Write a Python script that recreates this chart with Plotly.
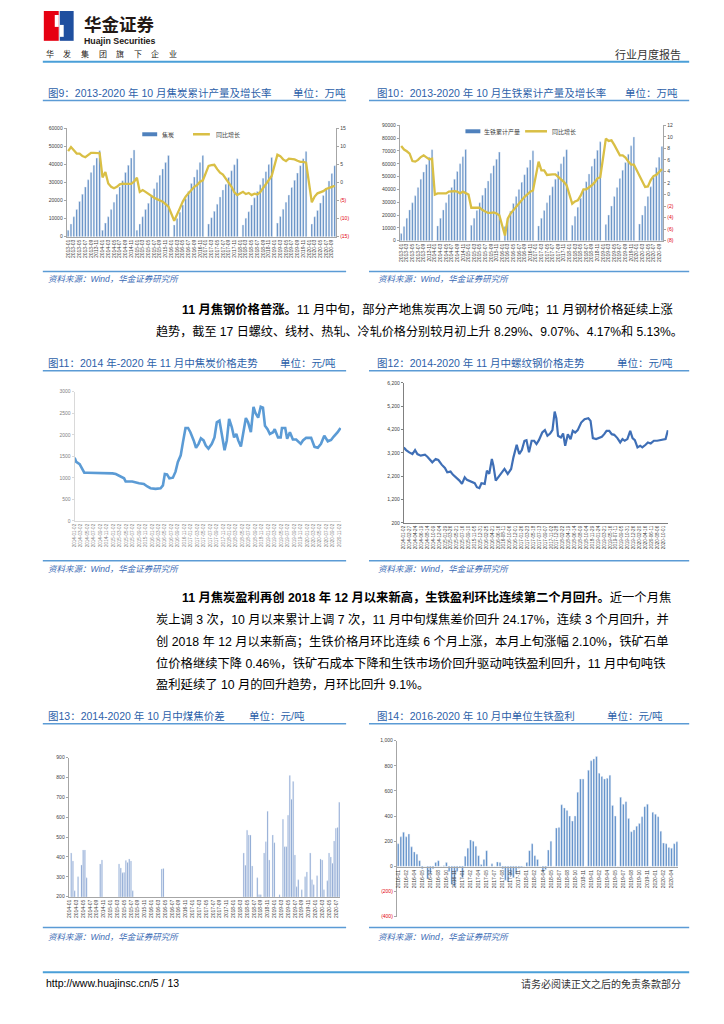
import plotly.graph_objects as go
import pandas as pd

# The page body has an 8px default margin; the figure is sized to fit inside it.
OFF = 8
W, H = 724 - OFF, 1024 - OFF
def px(x): return (x - OFF) / W
def py(y): return 1 - (y - OFF) / H

FONT = "Liberation Sans, Noto Sans CJK SC, sans-serif"
CJK = "Noto Sans CJK SC, Liberation Sans, sans-serif"
TITLE_BLUE = "#2d5fa9"
RULE_BLUE = "#5b9bd5"
RED = "#e3000f"
BAR_BLUE = "#4f81bd"
GOLD = "#d9bf45"
TICK = "#404040"

# ---------------- Data ----------------
# Fig 9: coke cumulative output (10k t) and YoY growth (%), monthly slots 2013-01 .. 2020-10
months_9 = [f"{y}-{m:02d}" for y in range(2013, 2021) for m in range(1, 13)][:94]
coke_output = [
    3500, 7000, 11000, 15000, 19500, 23500, 27500, 31500, 35500, 39500, 43500, 47500,
    3500, 7500, 11000, 15000, 19000, 23500, 27500, 31000, 35500, 39500, 43500, 48000,
    3500, 7000, 11000, 15000, 18500, 22500, 26500, 30000, 34000, 37500, 41000, 45000,
    None, 6500, 10000, 13500, 17500, 21000, 25000, 29500, 33000, 37000, 41000, 44900,
    None, 7000, 10500, 14000, 18000, 22000, 25800, 29000, 32800, 36500, 39800, 43100,
    None, 6500, 10200, 13800, 17500, 21500, 25000, 28700, 32300, 36000, 39900, 43800,
    None, 7500, 11200, 15200, 19000, 23000, 27200, 31200, 35200, 39300, 43200, 47100,
    None, 7000, 11000, 14500, 18600, 22800, 26800, 30800, 35000, 39300,
]
coke_yoy = [
    8.7, 9.8, 8.9, 8.0, 8.0, 7.3, 7.0, 7.7, 8.2, 8.2, 8.1, 8.1,
    1.4, 2.9, -0.3, -1.2, -1.6, -1.2, -0.5, -0.3, -0.4, -0.4, -0.4, 0.2,
    1.3, -2.6, -2.1, -2.6, -3.2, -3.8, -4.2, -4.6, -5.0, -5.3, -6.0, -6.7,
    None, -10.6, -9.0, -7.1, -5.3, -3.9, -3.0, -2.1, -1.2, -0.7, 0.2, 0.6,
    None, 4.6, 4.8, 4.9, 3.7, 2.7, 2.2, 1.1, -0.3, -1.2, -2.7, -3.5,
    None, -2.6, -3.2, -2.9, -3.5, -3.1, -3.3, -2.7, -1.6, -0.7, 0.5, 1.8,
    None, 7.7, 7.3, 6.4, 5.9, 6.6, 6.6, 6.4, 6.0, 5.7, 5.7, 5.5,
    None, -5.5, -3.9, -3.0, -2.8, -2.4, -1.8, -1.4, -1.2, -0.9,
]

# Fig 10: pig iron cumulative output (10k t) and YoY growth (%)
months_10 = months_9
pig_output = [
    5500, 11000, 17500, 24000, 29500, 35000, 41500, 48000, 53500, 59500, 65000, 71000,
    None, 11500, 17500, 24000, 29500, 36000, 41500, 48000, 54000, 60000, 65500, 71200,
    None, 12000, 17500, 23500, 29500, 35500, 41000, 46500, 52500, 58500, 63500, 69100,
    None, 11000, 17000, 23000, 29000, 34500, 40000, 45500, 51500, 57000, 63000, 70100,
    None, 11500, 17500, 23500, 29500, 35500, 42000, 48000, 54000, 60000, 65500, 71000,
    None, 12000, 19000, 26000, 33000, 39500, 46000, 52000, 58000, 64000, 70500, 77100,
    None, 12500, 20000, 27000, 34500, 41500, 48500, 55000, 61000, 67500, 74000, 80900,
    None, 13000, 20000, 27000, 34500, 42000, 49500, 57000, 65000, 73500,
]
pig_yoy = [
    8.4, 7.8, 7.5, 7.1, 5.8, 5.7, 6.0, 6.5, 6.8, 6.5, 6.1, 6.2,
    0.0, 0.2, 0.2, 0.1, 0.2, 0.5, 0.6, 0.6, 0.5, 0.2, 0.5, 0.3,
    0.0, -2.3, -2.3, -2.4, -2.3, -2.7, -3.0, -3.2, -3.2, -3.1, -3.3, -3.6,
    None, -7.1, -4.2, -3.3, -2.7, -2.1, -1.6, -1.0, -0.4, 0.0, 0.5, 0.7,
    None, 5.7, 4.2, 4.2, 3.4, 3.5, 3.5, 3.5, 3.1, 2.7, 2.2, 1.6,
    None, -1.6, -1.2, -1.0, -0.2, 0.9, 0.9, 1.2, 1.6, 2.1, 2.8, 3.0,
    None, 9.7, 9.3, 9.4, 8.6, 7.7, 6.8, 6.8, 6.4, 5.7, 5.2, 5.2,
    None, 3.1, 2.3, 1.3, 1.4, 2.5, 3.2, 3.4, 3.9, 4.4,
]

# Fig 11: coke price (yuan/t)
coke_dates = [
    "2014-01-02", "2014-01-17", "2014-02-18", "2014-03-12", "2014-04-03", "2014-05-04",
    "2014-06-20", "2014-08-22", "2014-10-24", "2014-12-25", "2015-01-25", "2015-02-26",
    "2015-04-13", "2015-04-28", "2015-06-29", "2015-09-01", "2015-10-16", "2015-11-18",
    "2015-12-18", "2016-02-04", "2016-03-22", "2016-04-13", "2016-05-01", "2016-05-22",
    "2016-06-13", "2016-07-16", "2016-08-10", "2016-09-01", "2016-09-28", "2016-10-19",
    "2016-11-12", "2016-12-06", "2016-12-28", "2017-01-28", "2017-02-19", "2017-03-15",
    "2017-04-06", "2017-05-01", "2017-05-22", "2017-06-16", "2017-07-18", "2017-08-12",
    "2017-09-03", "2017-09-28", "2017-10-19", "2017-11-15", "2017-12-06", "2017-12-28",
    "2018-01-22", "2018-02-13", "2018-03-06", "2018-03-24", "2018-04-18", "2018-05-10",
    "2018-06-04", "2018-06-25", "2018-07-21", "2018-08-15", "2018-09-03", "2018-09-28",
    "2018-10-22", "2018-11-12", "2018-12-01", "2018-12-25", "2019-01-16", "2019-02-16",
    "2019-03-03", "2019-04-03", "2019-04-28", "2019-05-10", "2019-06-10", "2019-06-28",
    "2019-07-24", "2019-08-21", "2019-09-21", "2019-11-03", "2019-11-24", "2019-12-24",
    "2020-02-09", "2020-03-12", "2020-04-12", "2020-05-12", "2020-06-12", "2020-07-15",
    "2020-08-15", "2020-09-09", "2020-10-16", "2020-11-12",
]
coke_price = [
    1470, 1370, 1320, 1220, 1120, 1120,
    1120, 1105, 1105, 1105, 1090, 1045,
    990, 915, 915, 875, 860, 800,
    760, 745, 760, 825, 1090, 1080,
    990, 1005, 1145, 1370, 1525, 1830,
    2160, 2160, 2060, 1870, 1700, 1790,
    1920, 1870, 1750, 1680, 1790, 1940,
    2290, 2330, 2020, 1640, 1870, 2370,
    2180, 1940, 2020, 1870, 1730, 2020,
    2390, 2290, 2060, 2650, 2500, 2400,
    2650, 2630, 2210, 2130, 2020, 2060,
    2130, 1940, 1940, 2160, 2160, 1910,
    2060, 1890, 1890, 1790, 1870, 1930,
    1930, 1720, 1700, 1790, 1980, 1850,
    1880, 1960, 2060, 2160,
]

# Fig 12: rebar price (yuan/t)
rebar_dates = [
    "2014-01-02", "2014-01-24", "2014-02-23", "2014-03-25", "2014-04-19", "2014-05-11",
    "2014-06-12", "2014-07-22", "2014-08-14", "2014-09-15", "2014-09-30", "2014-11-01",
    "2014-11-26", "2014-12-28", "2015-01-28", "2015-02-19", "2015-03-22", "2015-04-13",
    "2015-05-07", "2015-06-15", "2015-07-09", "2015-08-04", "2015-08-25", "2015-10-06",
    "2015-11-07", "2015-11-28", "2015-12-21", "2016-01-10", "2016-02-10", "2016-03-02",
    "2016-03-24", "2016-04-18", "2016-05-03", "2016-05-25", "2016-06-19", "2016-07-15",
    "2016-08-16", "2016-09-16", "2016-10-18", "2016-11-09", "2016-12-10", "2017-01-03",
    "2017-01-28", "2017-02-22", "2017-03-13", "2017-04-06", "2017-05-01", "2017-05-25",
    "2017-06-16", "2017-07-09", "2017-08-10", "2017-09-04", "2017-09-28", "2017-10-24",
    "2017-11-15", "2017-12-06", "2017-12-22", "2018-01-07", "2018-02-03", "2018-02-24",
    "2018-03-16", "2018-04-10", "2018-05-06", "2018-05-27", "2018-06-19", "2018-07-13",
    "2018-08-15", "2018-09-16", "2018-10-22", "2018-11-12", "2018-12-04", "2019-01-04",
    "2019-02-06", "2019-02-27", "2019-03-22", "2019-04-13", "2019-05-09", "2019-06-01",
    "2019-06-25", "2019-07-25", "2019-08-21", "2019-09-12", "2019-10-03", "2019-10-28",
    "2019-11-24", "2019-12-16", "2020-01-07", "2020-02-01", "2020-02-27", "2020-03-18",
    "2020-04-18", "2020-05-10", "2020-06-06", "2020-07-06", "2020-08-06", "2020-09-09",
    "2020-10-09", "2020-10-25", "2020-11-16",
]
rebar_price = [
    3434, 3320, 3221, 3150, 3320, 3150,
    3080, 3120, 3037, 2840, 2796, 2940,
    2895, 2696, 2555, 2370, 2400, 2270,
    2186, 2015, 1874, 2157, 2044, 1945,
    1902, 1732, 1690, 1902, 1874, 2441,
    2300, 2938, 2654, 2015, 2157, 2300,
    2512, 2300, 2512, 3008, 3548, 3150,
    3320, 3718, 3746, 3221, 3718, 3718,
    3576, 3746, 4072, 4172, 3930, 4030,
    4172, 4966, 4682, 3930, 3860, 4030,
    3505, 4001, 3789, 4143, 4072, 4172,
    4498, 4640, 4682, 4569, 3832, 3789,
    3832, 3888, 4001, 4143, 4143, 4001,
    3973, 3832, 3647, 3789, 3718, 3789,
    4143, 3832, 3746, 3434, 3505, 3434,
    3548, 3647, 3604, 3718, 3718, 3746,
    3746, 3789, 4172,
]

# Fig 13: coal-coke spread (yuan/t), semi-monthly slots
spread_periods = [d.strftime("%Y-%m-%d") for d in pd.date_range("2014-01-01", periods=159, freq="SMS")]
coal_coke_spread = (
    [180, 420, 380, 230, 180, 300, 180, 360, 435, 435, 295]
    + [180, 180, 180, 180, 180, 180, 180, 365, 385]
    + [180, 180, 180, 180, 180, 180, 180, 180, 180]
    + [365, 345, 320, 322, 382, 372, 390, 380, 230]
    + [180] * 16
    + [340, 342]
    + [180] * 46
    + [420, 358, 535, 510, 510, 355, 180, 180, 295, 210, 210, 180,
       420, 477, 630, 385, 180, 510, 472, 180, 180, 210, 180, 590,
       452, 452, 610, 810, 690, 780, 410, 250, 285, 180, 235, 180,
       300, 325, 180, 420, 285, 260, 180, 305, 180, 390, 385, 235,
       180, 280, 420, 400, 368, 480, 545, 548, 675]
)

# Fig 14: unit pig iron profit (yuan/t)
profit_periods = [d.strftime("%Y-%m-%d") for d in pd.date_range("2016-01-01", periods=105, freq="SMS")]
pig_profit = [
    180, 235, 272, 235, 258, 155, 115, 97, 45, -20,
    0, -100, -60, -20, 30, 45, 0, 5, 30, -40,
    -145, -160, -40, -10, -90, 80, 145, 210, 200, 160,
    85, 15, 55, 125, 0, 20, 0, 35, 30, -20,
    -110, -125, -75, -90, -60, -15, -5, 0, 30, 125,
    180, 85, 55, 0, -45, -25, 130, 200, 0, 305,
    310, 490, 465, 445, 400, 360, 400, 590, 695, 695,
    0, 765, 840, 855, 875, 740, 715, 695, 700, 725,
    485, 400, 0, 550, 495, 515, 380, 275, 290, 320,
    340, 395, 475, 495, 0, 430, 415, 395, 280, 185,
    180, 150, 145, 180, 195,
]

# tick label lists
ticks_9_right = [-15, -10, -5, 0, 5, 10, 15]
ticks_10_right = [-8, -6, -4, -2, 0, 2, 4, 6, 8, 10, 12]
ticks_14 = [-400, -200, 0, 200, 400, 600, 800, 1000]


def paren(vals, comma=False):
    out = []
    for v in vals:
        if v < 0:
            s = f"{abs(v):,}" if comma else str(abs(v))
            out.append(f'<span style="color:{RED}">({s})</span>')
        else:
            out.append(f"{v:,}" if comma else str(v))
    return out


fig = go.Figure()

# ---- Fig 9 ----
fig.add_trace(go.Bar(x=months_9, y=coke_output, marker_color=BAR_BLUE, width=0.55,
                     xaxis="x", yaxis="y", name="焦炭"))
fig.add_trace(go.Scatter(x=months_9, y=coke_yoy, mode="lines", connectgaps=True,
                         line=dict(color=GOLD, width=2.3), xaxis="x", yaxis="y2", name="同比增长"))
# ---- Fig 10 ----
fig.add_trace(go.Bar(x=months_10, y=pig_output, marker_color=BAR_BLUE, width=0.55,
                     xaxis="x2", yaxis="y3", name="生铁累计产量"))
fig.add_trace(go.Scatter(x=months_10, y=pig_yoy, mode="lines", connectgaps=True,
                         line=dict(color=GOLD, width=2.3), xaxis="x2", yaxis="y4", name="同比增长"))
# ---- Fig 11 ----
fig.add_trace(go.Scatter(x=coke_dates, y=coke_price, mode="lines",
                         line=dict(color="#5b9bd5", width=2.6), xaxis="x3", yaxis="y5"))
# ---- Fig 12 ----
fig.add_trace(go.Scatter(x=rebar_dates, y=rebar_price, mode="lines",
                         line=dict(color="#3f6fb6", width=2.2), xaxis="x4", yaxis="y6"))
# ---- Fig 13 ----
fig.add_trace(go.Bar(x=spread_periods, y=coal_coke_spread, marker_color="#5b80bf", width=0.6,
                     xaxis="x5", yaxis="y7"))
# ---- Fig 14 ----
fig.add_trace(go.Bar(x=profit_periods, y=pig_profit, marker_color="#4a80c2", width=0.6,
                     xaxis="x6", yaxis="y8"))

tickf = dict(size=5, color=TICK, family=FONT)
axline = dict(showline=True, linecolor="#a6a6a6", linewidth=1, showgrid=False, zeroline=False)

layout = dict(
    width=W, height=H, margin=dict(l=0, r=0, t=0, b=0),
    paper_bgcolor="white", plot_bgcolor="white", showlegend=False,
    font=dict(family=FONT),
    # fig 9
    xaxis=dict(domain=[px(64), px(335)], anchor="y", type="category",
               tickmode="array", tickvals=months_9[::2], ticktext=months_9[::2],
               tickangle=-90, tickfont=tickf, ticks="", **axline),
    yaxis=dict(domain=[py(235), py(126)], anchor="x", range=[0, 60000], dtick=10000,
               tickformat="d", tickfont=tickf, ticks="outside", ticklen=2, tickcolor="#a6a6a6", **axline),
    yaxis2=dict(overlaying="y", anchor="x", side="right", range=[-15, 15],
                tickmode="array", tickvals=ticks_9_right, ticktext=paren(ticks_9_right),
                tickfont=tickf, ticks="outside", ticklen=2, tickcolor="#a6a6a6", **axline),
    # fig 10
    xaxis2=dict(domain=[px(399), px(664)], anchor="y3", type="category",
                tickmode="array", tickvals=months_10[::2], ticktext=months_10[::2],
                tickangle=-90, tickfont=tickf, ticks="", **axline),
    yaxis3=dict(domain=[py(239), py(123)], anchor="x2", range=[0, 90000], dtick=10000,
                tickformat="d", tickfont=tickf, ticks="outside", ticklen=2, tickcolor="#a6a6a6", **axline),
    yaxis4=dict(overlaying="y3", anchor="x2", side="right", range=[-8, 12],
                tickmode="array", tickvals=ticks_10_right, ticktext=paren(ticks_10_right),
                tickfont=tickf, ticks="outside", ticklen=2, tickcolor="#a6a6a6", **axline),
    # fig 11
    xaxis3=dict(domain=[px(72), px(340)], anchor="y5", type="date",
                range=["2014-01-02", "2020-11-18"], tick0="2014-01-02", dtick="M2",
                tickformat="%Y-%m-%d", tickangle=-90, tickfont=dict(size=4.6, color="#7f7f7f", family=FONT),
                ticks="", showline=True, linecolor="#d9d9d9", showgrid=False, zeroline=False),
    yaxis5=dict(domain=[py(521), py(391)], anchor="x3", range=[0, 3000], dtick=500,
                tickformat="d", tickfont=dict(size=5, color="#7f7f7f", family=FONT),
                ticks="outside", ticklen=2, tickcolor="#d9d9d9",
                showline=True, linecolor="#d9d9d9", showgrid=False, zeroline=False),
    # fig 12
    xaxis4=dict(domain=[px(403), px(669)], anchor="y6", type="date",
                range=["2014-01-02", "2020-11-20"], tick0="2014-01-02", dtick=56 * 86400000,
                tickformat="%Y-%m-%d", tickangle=-90, tickfont=dict(size=4.6, color=TICK, family=FONT),
                ticks="", showline=True, linecolor="#808080", showgrid=False, zeroline=False),
    yaxis6=dict(domain=[py(523), py(382)], anchor="x4", range=[200, 6200], dtick=1000, tick0=200,
                tickformat=",d", tickfont=tickf, ticks="outside", ticklen=2, tickcolor="#808080",
                showline=True, linecolor="#808080", showgrid=False, zeroline=False),
    # fig 13
    xaxis5=dict(domain=[px(66), px(339)], anchor="y7", type="category",
                tickmode="array", tickvals=spread_periods[::4], ticktext=[s[:7] for s in spread_periods[::4]],
                tickangle=-90, tickfont=tickf, ticks="", **axline),
    yaxis7=dict(domain=[py(899), py(759)], anchor="x5", range=[200, 900], dtick=100,
                tickformat="d", tickfont=tickf, ticks="outside", ticklen=2, tickcolor="#a6a6a6", **axline),
    # fig 14
    xaxis6=dict(domain=[px(396), px(679)], anchor="free", position=py(869), type="category",
                tickmode="array", tickvals=profit_periods[::3], ticktext=[s[:7] for s in profit_periods[::3]],
                tickangle=-90, tickfont=tickf, ticks="", **axline),
    yaxis8=dict(domain=[py(919), py(742)], anchor="x6", range=[-400, 1000],
                tickmode="array", tickvals=ticks_14, ticktext=paren(ticks_14, comma=True),
                tickfont=tickf, ticks="outside", ticklen=2, tickcolor="#a6a6a6", **axline),
)
fig.update_layout(**layout)

shapes = []
ann = []

def hline(x0, x1, y, color=RULE_BLUE, w=1.5):
    shapes.append(dict(type="line", xref="paper", yref="paper", x0=px(x0), x1=px(x1),
                       y0=py(y), y1=py(y), line=dict(color=color, width=w)))

def rect(x0, y0, x1, y1, color):
    shapes.append(dict(type="rect", xref="paper", yref="paper", x0=px(x0), x1=px(x1),
                       y0=py(y1), y1=py(y0), fillcolor=color, line=dict(width=0)))

def text(x, y, s, size, color="#000", anchor="left", family=CJK, pad=1):
    ann.append(dict(xref="paper", yref="paper", x=px(x), y=py(y), text=s, showarrow=False,
                    xanchor=anchor, yanchor="middle", borderpad=pad,
                    font=dict(size=size, color=color, family=family)))

# ---- header ----
rect(41, 8, 56, 38, "#e60012")
rect(57, 8, 71, 38, "#1f4f9f")
rect(52, 12, 56, 24, "white")
rect(57, 22, 61, 34, "white")
text(80, 21, "<b>华金证券</b>", 17.5, "#231815", pad=0)
text(80, 38, "<b>Huajin Securities</b>", 8.8, "#231815", family="Liberation Sans, Open Sans", pad=0)
for i, ch in enumerate("华发集团旗下企业"):
    text(41 + i * 17.7, 51, ch, 8, "#231815")
text(684, 51, "行业月度报告", 11, "#333333", anchor="right")
hline(40, 690, 59, "#4a9fd8", 2)

# ---- chart titles ----
titles = [
    (43, 90, "图9：2013-2020 年 10 月焦炭累计产量及增长率", 290, "单位：万吨", 40, 345, 98),
    (374, 90, "图10：2013-2020 年 10 月生铁累计产量及增长率", 623, "单位：万吨", 368, 690, 98),
    (43, 362, "图11：2014 年-2020 年 11 月中焦炭价格走势", 276, "单位：元/吨", 40, 345, 370),
    (374, 362, "图12：2014-2020 年 11 月中螺纹钢价格走势", 615, "单位：元/吨", 368, 690, 370),
    (43, 717, "图13：2014-2020 年 10 月中煤焦价差", 245, "单位：元/吨", 40, 345, 725),
    (374, 717, "图14：2016-2020 年 10 月中单位生铁盈利", 605, "单位：元/吨", 368, 690, 725),
]
for x, y, t, ux, u, l0, l1, ly in titles:
    text(x, y, t, 10.5, TITLE_BLUE, family=FONT)
    text(ux, y, u, 10.5, TITLE_BLUE, family=FONT)
    hline(l0, l1, ly)

# ---- sources ----
src = "<i>资料来源：Wind，华金证券研究所</i>"
for x, l0, l1, ly, ty in [(43, 40, 345, 270, 278), (375, 368, 690, 270, 278),
                          (43, 40, 345, 561, 569), (375, 368, 690, 561, 569),
                          (43, 40, 345, 930, 940), (375, 368, 690, 930, 940)]:
    hline(l0, l1, ly)
    text(x, ty, src, 8.5, "#3b6cb5", family=FONT)

# ---- legends (fig 9, fig 10) ----
rect(140, 130, 155, 134, BAR_BLUE)
text(158, 132, "焦炭", 6, "#404040")
hline(191, 208, 132, GOLD, 2.5)
text(212, 132, "同比增长", 6, "#404040")
rect(465, 127, 480, 131, BAR_BLUE)
text(482, 129, "生铁累计产量", 6, "#404040")
hline(525, 547, 129, GOLD, 2.5)
text(550, 129, "同比增长", 6, "#404040")

# ---- body paragraphs ----
para = [
    (178, 308, 12.3, "<b>11 月焦钢价格普涨。</b>11 月中旬，部分产地焦炭再次上调 50 元/吨；11 月钢材价格延续上涨"),
    (152, 330, 12.1, "趋势，截至 17 日螺纹、线材、热轧、冷轧价格分别较月初上升 8.29%、9.07%、4.17%和 5.13%。"),
    (178, 598, 12.3, "<b>11 月焦炭盈利再创 2018 年 12 月以来新高，生铁盈利环比连续第二个月回升。</b>近一个月焦"),
    (152, 620, 12.3, "炭上调 3 次，10 月以来累计上调 7 次，11 月中旬煤焦差价回升 24.17%，连续 3 个月回升，并"),
    (152, 642, 12.3, "创 2018 年 12 月以来新高；生铁价格月环比连续 6 个月上涨，本月上旬涨幅 2.10%，铁矿石单"),
    (152, 664, 12.3, "位价格继续下降 0.46%，铁矿石成本下降和生铁市场价回升驱动吨铁盈利回升，11 月中旬吨铁"),
    (152, 686, 12.3, "盈利延续了 10 月的回升趋势，月环比回升 9.1%。"),
]
for x, y, fs, s in para:
    text(x, y, s, fs, "#000000", family=FONT)

# ---- footer ----
hline(40, 690, 975, "#4a9fd8", 2)
text(41, 986, "http://www.huajinsc.cn/5 / 13", 10.5, "#000000", family=FONT)
text(684, 986, "请务必阅读正文之后的免责条款部分", 10, "#333333", anchor="right")

fig.update_layout(shapes=shapes, annotations=ann)
fig.write_html("out.html")
